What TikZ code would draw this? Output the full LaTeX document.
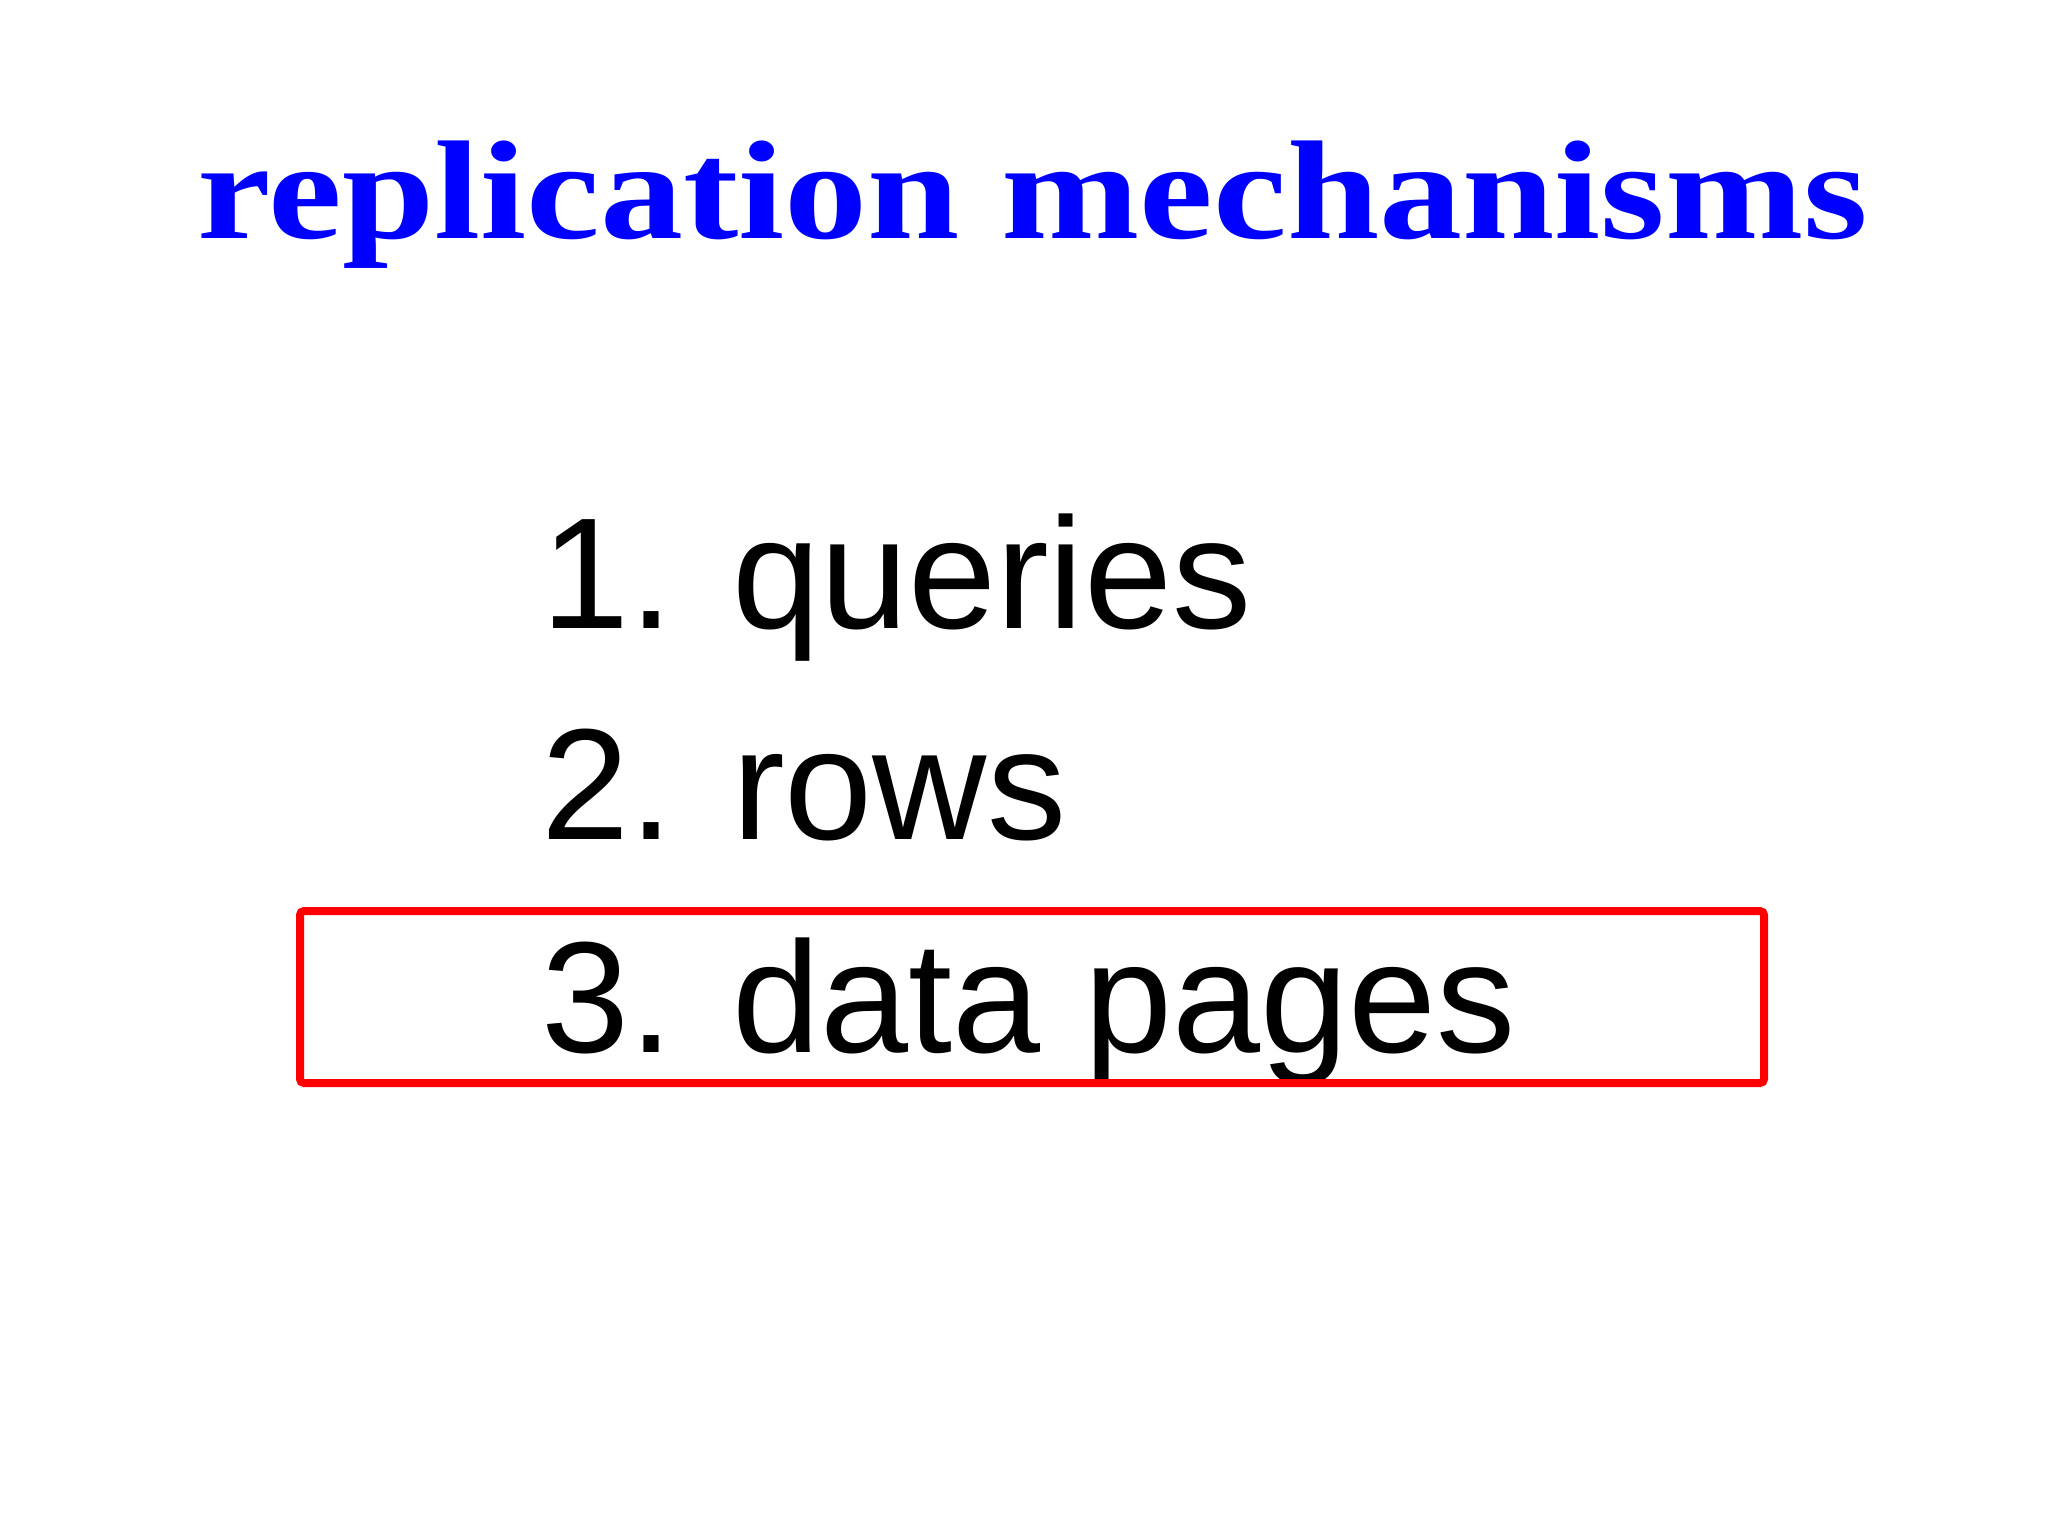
\documentclass[tikz,border=0pt]{standalone}
\usepackage{fontspec}
\setmainfont{Liberation Sans}
\newfontfamily\titlefont{Liberation Serif}
\begin{document}
\begin{tikzpicture}[x=0.01cm,y=-0.01cm,
  titlestyle/.style={font=\titlefont\bfseries\fontsize{40pt}{40pt}\selectfont, text=blue, anchor=base, inner sep=0pt},
  itemstyle/.style={font=\fontsize{45pt}{45pt}\selectfont, anchor=base west, inner sep=0pt},
  hlbox/.style={draw=red, line width=0.08cm, rounded corners=0.04cm}]
\useasboundingbox (0,0) rectangle (2048,1535);
\node[titlestyle, xscale=1.18] (title) at (1033,238) {replication mechanisms};
\node[itemstyle] (i1) at (541,628) {1. queries};
\node[itemstyle] (i2) at (541,839) {2. rows};
\node[itemstyle] (i3) at (541,1052) {3. data pages};
\draw[hlbox] (300,911) rectangle (1764,1083);
\end{tikzpicture}
\end{document}
